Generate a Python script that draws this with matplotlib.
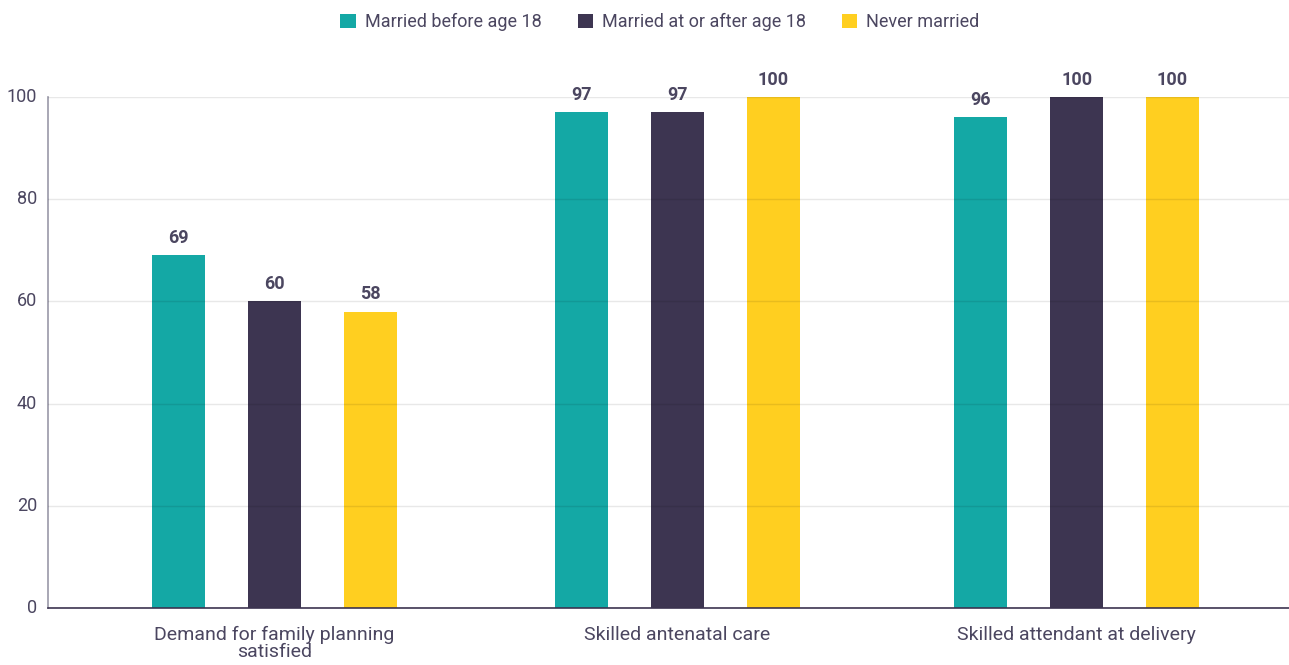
import numpy as np
from matplotlib import pyplot as plt

# data
categories = ["Demand for family planning\nsatisfied", "Skilled antenatal care", "Skilled attendant at delivery"]
series = ["Married before age 18", "Married at or after age 18", "Never married"]
before_18 = [69, 97, 96]
after_18 = [60, 97, 100]
never = [58, 100, 100]

colors = ["#14A8A5", "#3D3551", "#FFCF20"]
text_col = "#4B4660"

plt.rcParams['font.family'] = ['Roboto', 'DejaVu Sans']

fig = plt.figure(figsize=(12.89, 6.65), dpi=100)
ax = fig.add_axes([48 / 1289, 57 / 665, 1 - 48 / 1289, (608 - 97) / 665])

x = np.array([0.0, 1.0, 1.99])
w = 0.1315
step = 0.238
for i, (name, vals) in enumerate(zip(series, [before_18, after_18, never])):
    pos = x + (i - 1) * step
    ax.bar(pos, vals, width=w, color=colors[i], label=name, zorder=2)
    for p, v in zip(pos, vals):
        ax.text(p, v + 1.6, str(v), ha='center', va='bottom', fontsize=13,
                fontweight='bold', color=text_col)

ax.set_xlim(-0.562, 2.517)
ax.set_ylim(0, 100)
ax.set_yticks([0, 20, 40, 60, 80, 100])
ax.yaxis.grid(True, color="#000000", linewidth=1, zorder=3, alpha=0.09)
ax.set_axisbelow(False)
ax.tick_params(axis='y', length=0, labelsize=13, labelcolor=text_col, pad=8)
ax.tick_params(axis='x', length=0, labelsize=14, labelcolor=text_col, pad=13)
ax.set_xticks(x)
ax.set_xticklabels(categories, linespacing=0.95)
for lbl in ax.get_yticklabels():
    lbl.set_verticalalignment('center')

for s in ['top', 'right']:
    ax.spines[s].set_visible(False)
ax.spines['left'].set_color("#9A98A8")
ax.spines['bottom'].set_color("#3D3551")
ax.spines['left'].set_linewidth(1.2)
ax.spines['bottom'].set_linewidth(1.2)

fig.legend(loc='upper center', bbox_to_anchor=(0.512, 1.005), ncol=3, frameon=False,
           fontsize=13, handlelength=0.85, handleheight=0.85, handletextpad=0.5,
           columnspacing=2.0, labelcolor=text_col)

fig.savefig("out.png", dpi=100)
